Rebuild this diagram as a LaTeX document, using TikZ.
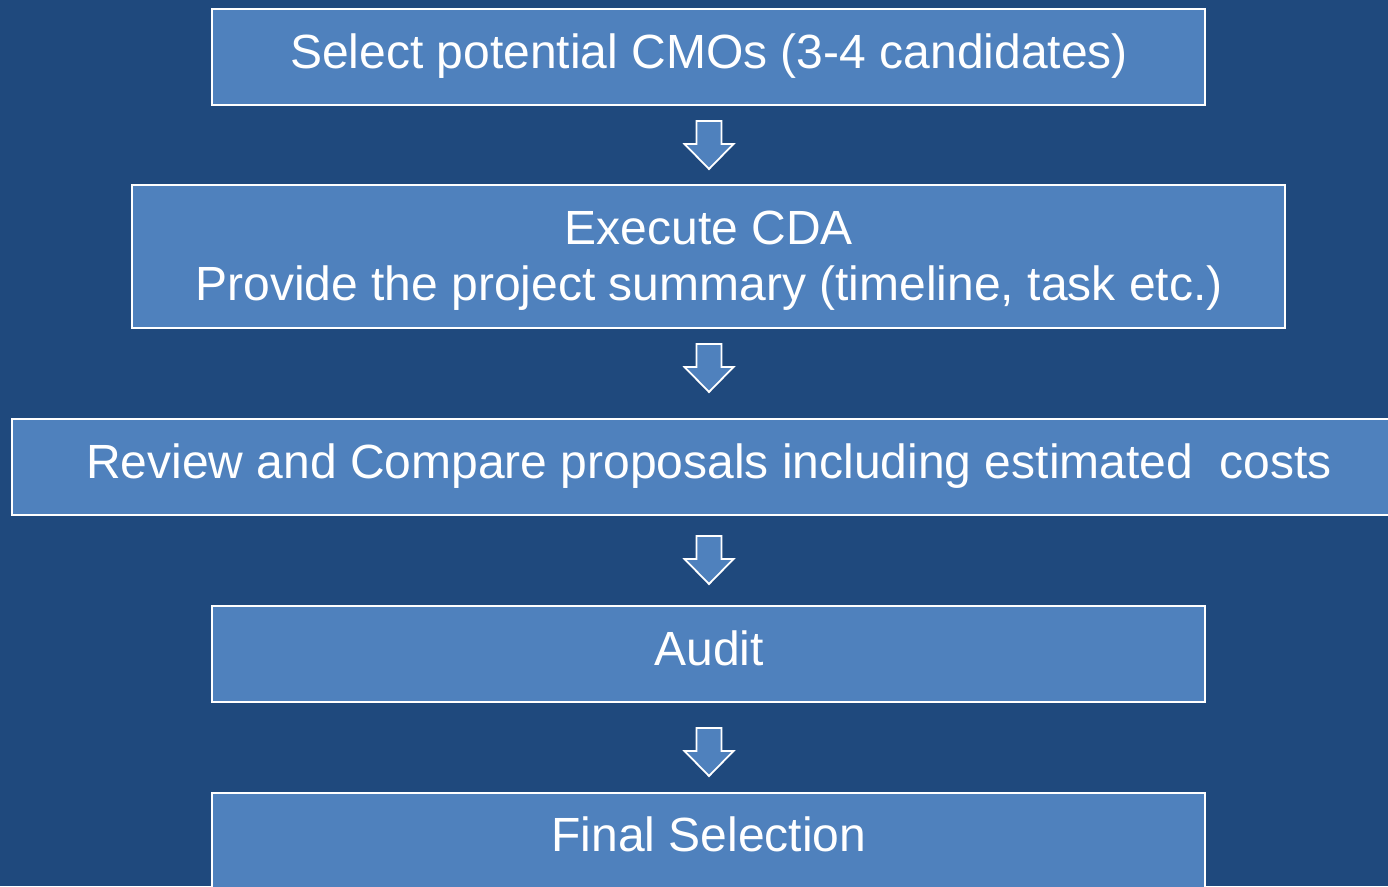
\documentclass[tikz,border=0pt]{standalone}
\usepackage{fontspec}
\setmainfont{Liberation Sans}
\definecolor{bgblue}{HTML}{1F497D}
\definecolor{boxblue}{HTML}{4F81BD}
\tikzset{
  stepbox/.style={draw=white, line width=1.6pt, fill=boxblue, inner sep=0pt},
  steptext/.style={text=white, font=\fontsize{48}{56}\selectfont, anchor=base, inner sep=0pt},
  downarrow/.pic={
    \draw[draw=white, line width=1.8pt, fill=boxblue, line join=miter]
      (-12.5,0) -- (12.5,0) -- (12.5,23) -- (24.5,23) -- (0,48) -- (-24.5,23) -- (-12.5,23) -- cycle;
  }
}
\begin{document}
\begin{tikzpicture}[x=1pt, y=-1pt]
\fill[bgblue] (0,0) rectangle (1388,886);
\useasboundingbox (0,0) rectangle (1388,886);
% boxes
\draw[stepbox] (212,9) rectangle (1205,105);
\node[inner sep=0pt] (b1) at (708.5,57) {};
\draw[stepbox] (132,185) rectangle (1285,328);
\node[inner sep=0pt] (b2) at (708.5,256.5) {};
\draw[stepbox] (12,419) rectangle (1400,515);
\node[inner sep=0pt] (b3) at (708.5,467) {};
\draw[stepbox] (212,606) rectangle (1205,702);
\node[inner sep=0pt] (b4) at (708.5,654) {};
\draw[stepbox] (212,793) rectangle (1205,900);
\node[inner sep=0pt] (b5) at (708.5,841) {};
% texts
\node[steptext] (t1) at (709,68) {Select potential CMOs (3-4 candidates)};
\node[steptext] (t2a) at (709,244) {Execute CDA};
\node[steptext] (t2b) at (709,300) {Provide the project summary (timeline, task etc.)};
\node[steptext] (t3) at (709,478) {Review and Compare proposals including estimated\ \ costs};
\node[steptext] (t4) at (709,665) {Audit};
\node[steptext] (t5) at (709,851) {Final Selection};
% arrows
\coordinate (a1) at (709,121);
\coordinate (a2) at (709,344);
\coordinate (a3) at (709,536);
\coordinate (a4) at (709,728);
\pic at (a1) {downarrow};
\pic at (a2) {downarrow};
\pic at (a3) {downarrow};
\pic at (a4) {downarrow};
\end{tikzpicture}
\end{document}
